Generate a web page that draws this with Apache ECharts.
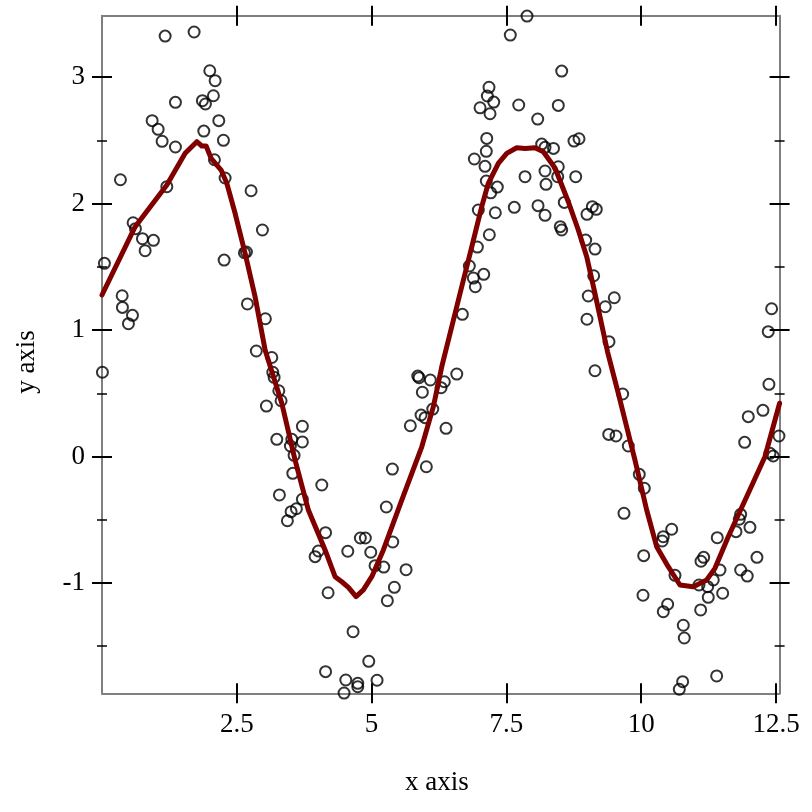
<!DOCTYPE html>
<html>
<head>
<meta charset="utf-8">
<script src="https://cdn.jsdelivr.net/npm/echarts@6/dist/echarts.min.js"></script>
<style>
html,body{margin:0;padding:0;background:#fff;}
#chart{width:812px;height:812px;}
</style>
</head>
<body>
<div id="chart"></div>
<script>
// ---- data ----
const pointX = [
1.171,1.708,1.999,2.098,2.066,1.862,1.918,1.362,0.930,1.041,1.115,1.362,2.166,1.888,2.252,2.085,2.283,2.765,0.342,1.202,
0.577,0.620,0.750,0.954,0.800,2.975,2.641,2.678,2.265,0.045,0.374,0.379,0.565,0.490,2.697,3.030,2.862,3.149,
0.008,3.167,3.192,3.279,3.321,3.049,3.716,3.242,3.520,3.716,3.494,3.562,3.538,3.290,3.716,3.605,3.507,3.438,4.076,4.146,4.013,3.952,4.193,4.146,
5.856,5.880,6.089,6.349,6.579,6.288,5.941,6.134,5.917,5.991,5.718,6.380,5.385,6.015,5.273,4.791,4.884,4.558,4.984,5.392,5.064,5.225,5.639,5.422,5.292,4.656,4.947,4.521,4.743,4.743,5.101,4.489,
7.572,7.882,7.177,7.146,7.265,7.011,7.196,7.728,8.080,7.135,7.127,6.905,7.103,8.154,8.216,8.373,8.216,8.234,7.845,7.127,7.331,7.209,6.979,7.294,7.646,8.086,8.216,7.183,6.961,6.812,6.886,7.079,6.923,6.683,
8.525,8.462,8.753,8.846,8.462,8.451,8.785,8.573,9.093,9.167,8.994,8.499,8.525,8.970,9.143,9.118,9.018,9.500,9.333,8.994,9.402,12.418,12.355,
9.142,9.656,9.397,9.532,9.760,9.964,10.057,9.680,10.565,10.409,10.390,10.046,10.626,10.033,10.490,10.409,10.780,10.798,11.102,11.158,11.108,11.410,11.460,11.336,11.232,11.071,11.243,11.510,10.768,10.706,11.399,11.844,11.818,11.757,12.016,12.146,11.844,11.966,12.368,11.985,12.257,11.918,12.554,12.387,12.448
];
const pointY = [
3.324,3.356,3.050,2.971,2.852,2.813,2.787,2.800,2.655,2.587,2.492,2.447,2.655,2.573,2.500,2.346,2.202,2.101,2.188,2.133,
1.848,1.801,1.722,1.709,1.627,1.791,1.611,1.617,1.553,1.527,1.271,1.179,1.116,1.050,1.206,1.089,0.834,0.783,
0.666,0.666,0.626,0.520,0.441,0.399,0.239,0.136,0.136,0.115,0.083,0.009,-0.133,-0.304,-0.338,-0.413,-0.436,-0.508,-0.225,-0.602,-0.747,-0.792,-1.077,-1.701,
0.636,0.623,0.605,0.591,0.652,0.544,0.508,0.375,0.328,0.307,0.243,0.223,-0.099,-0.081,-0.399,-0.644,-0.644,-0.749,-0.757,-0.676,-0.863,-0.874,-0.895,-1.034,-1.140,-1.385,-1.619,-1.767,-1.793,-1.820,-1.769,-1.870,
3.332,3.482,2.919,2.850,2.802,2.757,2.710,2.779,2.668,2.515,2.413,2.352,2.294,2.470,2.444,2.436,2.257,2.152,2.212,2.178,2.130,2.085,1.949,1.927,1.970,1.983,1.907,1.753,1.656,1.506,1.411,1.440,1.342,1.124,
3.047,2.776,2.494,2.512,2.291,2.212,2.212,2.009,1.975,1.954,1.915,1.817,1.791,1.711,1.640,1.429,1.269,1.255,1.184,1.085,0.908,1.168,0.987,
0.678,0.494,0.175,0.162,0.083,-0.141,-0.251,-0.449,-0.575,-0.634,-0.668,-0.784,-0.939,-1.097,-1.168,-1.227,-1.334,-1.435,-1.213,-0.797,-0.828,-0.642,-0.897,-0.976,-1.029,-1.016,-1.113,-1.081,-1.780,-1.840,-1.735,-0.457,-0.496,-0.594,-0.560,-0.797,-0.897,-0.945,0.571,0.315,0.365,0.112,0.162,0.025,0.004
];
const curveX = [0,0.615,1.202,1.542,1.758,1.851,1.931,2.024,2.209,2.315,2.468,2.654,2.839,3.025,3.334,3.581,3.827,4.137,4.322,4.447,4.569,4.712,4.847,5.003,5.218,5.559,5.930,6.145,6.301,6.671,6.857,7.042,7.164,7.350,7.506,7.691,7.845,8.030,8.184,8.401,8.648,8.833,8.989,9.142,9.374,9.575,9.884,10.101,10.286,10.501,10.718,10.965,11.213,11.367,11.614,11.985,12.294,12.566];
const curveY = [1.277,1.817,2.146,2.397,2.489,2.455,2.455,2.357,2.265,2.160,1.923,1.606,1.263,0.842,0.421,-0.028,-0.423,-0.739,-0.950,-0.990,-1.034,-1.108,-1.055,-0.950,-0.739,-0.344,0.077,0.394,0.710,1.342,1.658,1.975,2.160,2.318,2.397,2.441,2.436,2.441,2.409,2.281,2.014,1.791,1.579,1.290,0.830,0.500,-0.028,-0.423,-0.713,-0.871,-1.016,-1.029,-0.976,-0.884,-0.634,-0.291,-0.002,0.421];
const xTicks = [2.5, 5, 7.5, 10, 12.5];
const yTicks = [-1, 0, 1, 2, 3];
const yMinorTicks = [-1.5, -0.5, 0.5, 1.5, 2.5];
const xRange = [0, 12.566];
const yRange = [-1.872, 3.485];

// ---- chart ----
const FONT = 'Liberation Serif';
const AXIS_GRAY = '#7f7f7f';
const chart = echarts.init(document.getElementById('chart'), null, {renderer: 'canvas'});

function xAx(pos, inside, opts) {
  return Object.assign({
    type: 'value', position: pos, min: xRange[0], max: xRange[1],
    splitLine: {show: false},
    axisLine: {show: false, onZero: false},
    axisTick: {show: true, inside: inside, length: 10, customValues: xTicks, lineStyle: {color: '#000', width: 2}},
    axisLabel: {show: false}
  }, opts || {});
}
function yAx(pos, inside, ticks, len, w, opts) {
  return Object.assign({
    type: 'value', position: pos, min: yRange[0], max: yRange[1],
    splitLine: {show: false},
    axisLine: {show: false, onZero: false},
    axisTick: {show: true, inside: inside, length: len, customValues: ticks, lineStyle: {color: '#000', width: w}},
    axisLabel: {show: false}
  }, opts || {});
}

const option = {
  animation: false,
  backgroundColor: '#fff',
  grid: {left: 102, right: 32.4, top: 15.7, bottom: 118.7, containLabel: false},
  xAxis: [
    xAx('bottom', false, {
      axisLine: {show: true, onZero: false, lineStyle: {color: AXIS_GRAY, width: 2}},
      axisLabel: {show: true, customValues: xTicks, margin: 18, color: '#000', fontFamily: FONT, fontSize: 27},
      name: 'x axis', nameLocation: 'middle', nameGap: 76,
      nameTextStyle: {color: '#000', fontFamily: FONT, fontSize: 27, padding: [0, 8, 0, 0]}
    }),
    xAx('bottom', true),
    xAx('top', false, {axisLine: {show: true, onZero: false, lineStyle: {color: AXIS_GRAY, width: 2}}}),
    xAx('top', true)
  ],
  yAxis: [
    yAx('left', false, yTicks, 10, 2, {
      axisLine: {show: true, onZero: false, lineStyle: {color: AXIS_GRAY, width: 2}},
      axisLabel: {show: true, customValues: yTicks, margin: 17, color: '#000', fontFamily: FONT, fontSize: 27},
      name: 'y axis', nameLocation: 'middle', nameGap: 62, nameRotate: 90,
      nameTextStyle: {color: '#000', fontFamily: FONT, fontSize: 27, padding: [0, 15, 0, 0]}
    }),
    yAx('left', true, yTicks, 10, 2),
    yAx('left', false, yMinorTicks, 5, 1.5),
    yAx('left', true, yMinorTicks, 5, 1.5),
    yAx('right', false, yTicks, 10, 2, {axisLine: {show: true, onZero: false, lineStyle: {color: AXIS_GRAY, width: 2}}}),
    yAx('right', true, yTicks, 10, 2),
    yAx('right', false, yMinorTicks, 5, 1.5),
    yAx('right', true, yMinorTicks, 5, 1.5)
  ],
  series: [
    {
      type: 'scatter', xAxisIndex: 0, yAxisIndex: 0,
      data: pointX.map((x, i) => [x, pointY[i]]),
      symbol: 'circle', symbolSize: 11,
      itemStyle: {color: 'rgba(0,0,0,0)', borderColor: '#000', borderWidth: 2},
      emphasis: {disabled: true}, clip: false, z: 2
    },
    {
      type: 'line', xAxisIndex: 0, yAxisIndex: 0,
      data: curveX.map((x, i) => [x, curveY[i]]),
      showSymbol: false, symbol: 'none',
      lineStyle: {color: '#800000', width: 5, join: 'round', cap: 'round'},
      emphasis: {disabled: true}, z: 3
    }
  ]
};
chart.setOption(option);
</script>
</body>
</html>
